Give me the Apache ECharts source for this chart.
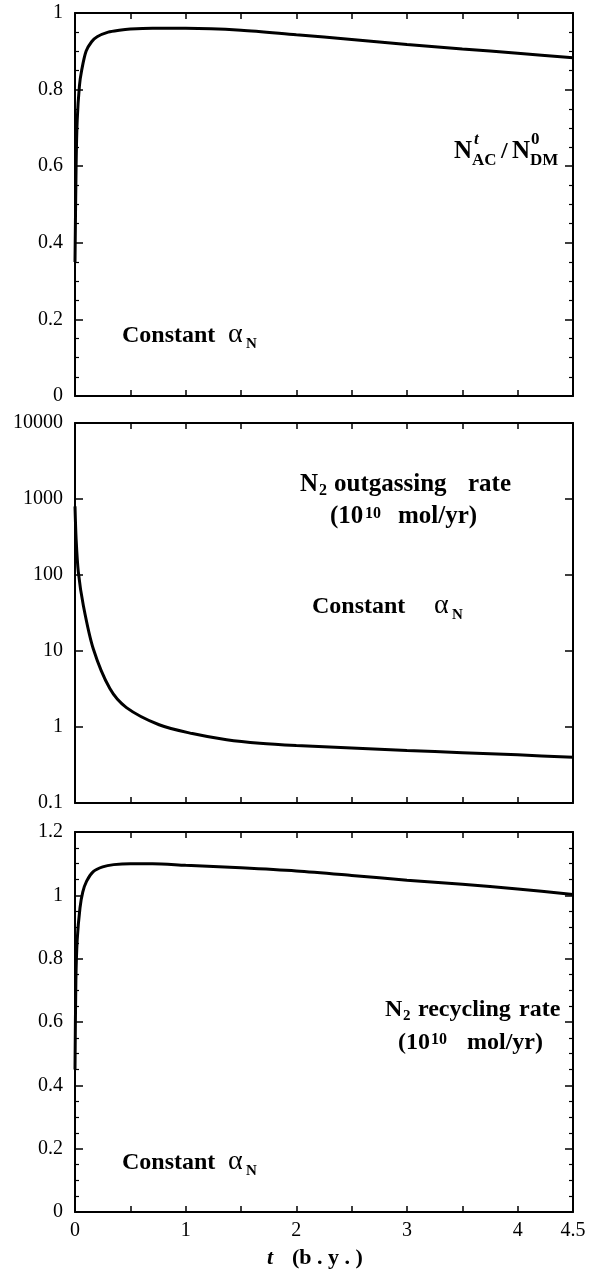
<!DOCTYPE html>
<html>
<head>
<meta charset="utf-8">
<script src="https://cdn.jsdelivr.net/npm/echarts@6/dist/echarts.min.js"></script>
<style>
  html, body { margin: 0; padding: 0; background: #fff; }
  #chart { width: 600px; height: 1272px; }
</style>
</head>
<body>
<div id="chart"></div>
<script>
// top panel: N_AC^t / N_DM^0
const tTop = [0, 0.01, 0.02, 0.04, 0.06, 0.1, 0.15, 0.2, 0.3, 0.4, 0.5, 0.7, 1, 1.5, 2, 2.5, 3, 3.5, 4, 4.5];
const ratioTop = [0.35, 0.6, 0.72, 0.81, 0.85, 0.9, 0.925, 0.938, 0.95, 0.955, 0.958, 0.96, 0.96, 0.955, 0.943, 0.931, 0.918, 0.906, 0.895, 0.883];

// middle panel: N2 outgassing rate (log)
const tOut = [0, 0.01, 0.03, 0.075, 0.165, 0.315, 0.465, 0.76, 1.06, 1.37, 1.67, 2, 2.5, 3, 3.5, 4, 4.5];
const outgas = [800, 300, 110, 40, 10.7, 3.2, 1.8, 1.07, 0.82, 0.68, 0.61, 0.57, 0.53, 0.49, 0.46, 0.43, 0.40];

// bottom panel: N2 recycling rate
const tRec = [0, 0.008, 0.02, 0.045, 0.07, 0.105, 0.165, 0.25, 0.35, 0.5, 0.7, 1, 1.5, 2, 2.5, 3, 3.5, 4, 4.5];
const recycling = [0.45, 0.73, 0.86, 0.96, 1.01, 1.045, 1.075, 1.09, 1.097, 1.1, 1.1, 1.095, 1.087, 1.077, 1.063, 1.048, 1.035, 1.02, 1.003];

const xTickLabels = ["0", "1", "2", "3", "4", "4.5"];

const SERIF = '"Liberation Serif", "Times New Roman", serif';

const pairs = (xs, ys) => xs.map((x, i) => [x, ys[i]]);

const grids = [
  { left: 75, top: 13, width: 498, height: 383 },
  { left: 75, top: 423, width: 498, height: 380 },
  { left: 75, top: 832, width: 498, height: 380 },
];

const lineStyle = { color: "#000", width: 2 };

function xAxes(gi) {
  const base = {
    gridIndex: gi,
    type: "value",
    min: 0,
    max: 4.5,
    interval: 0.5,
    axisLine: { onZero: false, lineStyle: lineStyle },
    axisTick: { inside: true, length: 6, lineStyle: { color: "#000", width: 1.5 } },
    splitLine: { show: false },
  };
  return [
    Object.assign({}, base, {
      position: "bottom",
      axisLabel: {
        show: gi === 2,
        color: "#000",
        fontFamily: SERIF,
        fontSize: 20,
        margin: 9,
        formatter: (v) => {
          const s = String(+v.toFixed(1));
          return xTickLabels.indexOf(s) >= 0 ? s : "";
        },
      },
    }),
    Object.assign({}, base, { position: "top", axisLabel: { show: false } }),
  ];
}

function yAxes(gi, opts) {
  const base = Object.assign(
    {
      gridIndex: gi,
      axisLine: { onZero: false, lineStyle: lineStyle },
      axisTick: { inside: true, length: 8, lineStyle: { color: "#000", width: 1.5 } },
      minorTick: { show: opts.type !== "log", splitNumber: 4, length: 4, lineStyle: { color: "#000", width: 1.2 } },
      splitLine: { show: false },
      minorSplitLine: { show: false },
    },
    opts
  );
  return [
    Object.assign({}, base, {
      position: "left",
      axisLabel: {
        color: "#000",
        fontFamily: SERIF,
        fontSize: 20,
        margin: 12,
        formatter: (v) => String(+(+v).toPrecision(6)),
      },
    }),
    Object.assign({}, base, { position: "right", axisLabel: { show: false } }),
  ];
}

function curve(xi, yi, data) {
  return {
    type: "line",
    xAxisIndex: xi,
    yAxisIndex: yi,
    data: data,
    showSymbol: false,
    symbol: "none",
    smooth: 0.3,
    lineStyle: { color: "#000", width: 3 },
    clip: true,
    z: 3,
  };
}

// text helpers for annotations
function txt(x, y, s, size, extra) {
  return {
    type: "text",
    x: x,
    y: y,
    z: 10,
    style: Object.assign(
      {
        text: s,
        font: "bold " + size + "px " + SERIF,
        fill: "#000",
        align: "left",
        textAlign: "left",
        verticalAlign: "middle",
        textVerticalAlign: "middle",
      },
      extra || {}
    ),
  };
}

function constantAlpha(x, y, gap) {
  return [
    txt(x, y, "Constant", 24),
    txt(x + gap, y - 1, "\u03b1", 28, { font: "28px " + SERIF }),
    txt(x + gap + 18, y + 8, "N", 15),
  ];
}

const graphics = [].concat(
  // top panel label
  txt(454, 152, "N", 25),
  txt(474, 140, "t", 17, { font: "italic bold 17px " + SERIF }),
  txt(472, 161, "AC", 17),
  txt(501, 152, "/", 24),
  txt(512, 152, "N", 25),
  txt(531, 140, "0", 17),
  txt(530, 161, "DM", 17),
  constantAlpha(122, 336, 106),
  // middle panel labels
  txt(300, 485, "N", 25),
  txt(319, 491, "2", 16),
  txt(334, 485, "outgassing", 25),
  txt(468, 485, "rate", 25),
  txt(330, 517, "(10", 25),
  txt(365, 514, "10", 16),
  txt(398, 517, "mol/yr)", 25),
  constantAlpha(312, 607, 122),
  // bottom panel labels
  txt(385, 1010, "N", 24),
  txt(403, 1016, "2", 15),
  txt(418, 1010, "recycling", 24),
  txt(519, 1010, "rate", 24),
  txt(398, 1043, "(10", 24),
  txt(431, 1040, "10", 16),
  txt(467, 1043, "mol/yr)", 24),
  constantAlpha(122, 1163, 106),
  // x axis name
  txt(267, 1258, "t", 22, { font: "italic bold 22px " + SERIF }),
  txt(292, 1258, "(b . y . )", 22)
);

const chart = echarts.init(document.getElementById("chart"));
chart.setOption({
  animation: false,
  backgroundColor: "#fff",
  grid: grids,
  xAxis: [].concat(xAxes(0), xAxes(1), xAxes(2)),
  yAxis: [].concat(
    yAxes(0, { type: "value", min: 0, max: 1, interval: 0.2 }),
    yAxes(1, { type: "log", logBase: 10, min: 0.1, max: 10000 }),
    yAxes(2, { type: "value", min: 0, max: 1.2, interval: 0.2 })
  ),
  series: [
    curve(0, 0, pairs(tTop, ratioTop)),
    curve(2, 2, pairs(tOut, outgas)),
    curve(4, 4, pairs(tRec, recycling)),
  ],
  graphic: graphics,
});
</script>
</body>
</html>
